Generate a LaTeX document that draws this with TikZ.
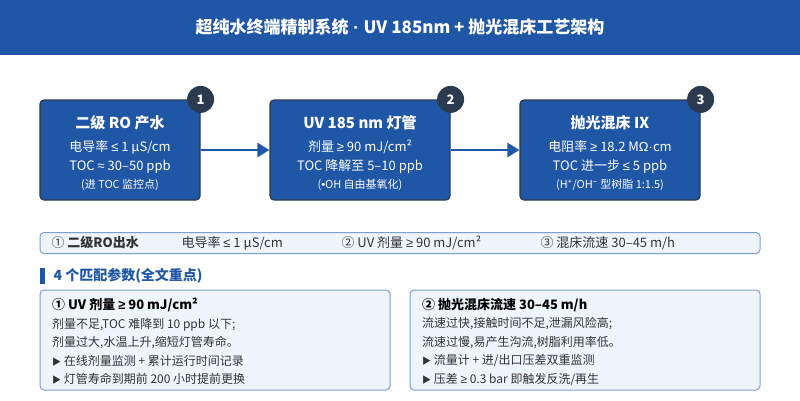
\documentclass[tikz,border=0pt]{standalone}
\usepackage{fontspec}
\setmainfont{Noto Sans CJK SC}
\newfontfamily\lat{Liberation Sans}
\usetikzlibrary{arrows.meta}
\definecolor{bluem}{HTML}{1F56A6}
\definecolor{darkb}{HTML}{2B3A4E}
\definecolor{lightb}{HTML}{EEF5FD}
\definecolor{edgeb}{HTML}{7EA0D0}
\definecolor{txt}{HTML}{333333}
\tikzset{
 stage/.style={draw=darkb,line width=1.2pt,fill=bluem,rounded corners=4pt,minimum height=100pt,inner sep=0pt},
 st/.style={text=white,font=\fontsize{15}{15}\selectfont\bfseries},
 sa/.style={text=white,font=\fontsize{13}{13}\selectfont},
 sc/.style={text=white,font=\fontsize{11}{11}\selectfont},
 badge/.style={circle,fill=darkb,minimum size=27pt,inner sep=0pt,text=white,font=\fontsize{13}{13}\selectfont\bfseries},
 flow/.style={draw=bluem,line width=2.5pt,-{Triangle[length=12pt,width=14pt]}},
 card/.style={draw=edgeb,line width=1pt,fill=lightb,rounded corners=4pt,inner sep=0pt},
 info/.style={anchor=west,text=txt,font=\fontsize{13}{13}\selectfont},
 cardtxt/.style={anchor=north west,text=txt,align=left,font=\fontsize{12}{18.5}\selectfont,inner sep=0pt},
}
\newcommand\tri{{\fontsize{9}{9}\selectfont▶}}
\newcommand\sy[1]{{\lat #1}}
\begin{document}
\begin{tikzpicture}[x=1pt,y=-1pt]
\useasboundingbox (0,0) rectangle (800,400);
\fill[white] (0,0) rectangle (800,400);
\fill[bluem] (0,0) rectangle (800,55);
\node[text=white,font=\fontsize{17}{17}\selectfont\bfseries] (title) at (400,27) {超纯水终端精制系统\sy{ · }UV 185nm + 抛光混床工艺架构};

\node[stage,minimum width=160pt] (s1) at (120,150) {};
\node[stage,minimum width=180pt] (s2) at (360,150) {};
\node[stage,minimum width=180pt] (s3) at (610,150) {};
\node[st] (s1t) at (120,123) {二级 RO 产水};
\node[sa] (s1a) at (120,147) {电导率 \sy{≤} 1 μS/cm};
\node[sa] (s1b) at (120,167) {TOC \sy{≈} 30–50 ppb};
\node[sc] (s1c) at (120,185) {(进 TOC 监控点)};
\node[st] (s2t) at (360,123) {UV 185 nm 灯管};
\node[sa] (s2a) at (360,147) {剂量 \sy{≥} 90 mJ/cm²};
\node[sa] (s2b) at (360,167) {TOC 降解至 5–10 ppb};
\node[sc] (s2c) at (360,185) {(\sy{•}OH 自由基氧化)};
\node[st] (s3t) at (610,123) {抛光混床 IX};
\node[sa] (s3a) at (610,147) {电阻率 \sy{≥} 18.2 M\sy{Ω·}cm};
\node[sa] (s3b) at (610,167) {TOC 进一步 \sy{≤} 5 ppb};
\node[sc] (s3c) at (610,185) {(H\textsuperscript{+}/OH\textsuperscript{\sy{−}} 型树脂 1:1.5)};
\node[badge] (b1) at (s1.north east) {1};
\node[badge] (b2) at (s2.north east) {2};
\node[badge] (b3) at (s3.north east) {3};
\draw[flow] (s1.east) -- (s2.west);
\draw[flow] (s2.east) -- (s3.west);

\node[card,minimum width=720pt,minimum height=21pt] (strip) at (400,243) {};
\node[info] (i1) at (48,243) {① \textbf{二级RO出水}};
\node[info] (i2) at (178,243) {电导率 \sy{≤} 1 μS/cm};
\node[info] (i3) at (338,243) {② UV 剂量 \sy{≥} 90 mJ/cm²};
\node[info] (i4) at (537,243) {③ 混床流速 30–45 m/h};

\fill[bluem] (40,268) rectangle (45,284);
\node[anchor=west,text=bluem,font=\fontsize{14}{14}\selectfont\bfseries] (h) at (50,276) {4 个匹配参数(全文重点)};

\node[card,minimum width=350pt,minimum height=100pt] (c1) at (215,340) {};
\node[card,minimum width=350pt,minimum height=100pt] (c2) at (585,340) {};
\node[cardtxt] (c1t) at (52,298) {{\fontsize{13}{13}\selectfont\bfseries\color{black}① UV 剂量 \sy{≥} 90 mJ/cm²}\\剂量不足,TOC 难降到 10 ppb 以下;\\剂量过大,水温上升,缩短灯管寿命。\\\tri{} 在线剂量监测 + 累计运行时间记录\\\tri{} 灯管寿命到期前 200 小时提前更换};
\node[cardtxt] (c2t) at (422,298) {{\fontsize{13}{13}\selectfont\bfseries\color{black}② 抛光混床流速 30–45 m/h}\\流速过快,接触时间不足,泄漏风险高;\\流速过慢,易产生沟流,树脂利用率低。\\\tri{} 流量计 + 进/出口压差双重监测\\\tri{} 压差 \sy{≥} 0.3 bar 即触发反洗/再生};
\end{tikzpicture}
\end{document}
